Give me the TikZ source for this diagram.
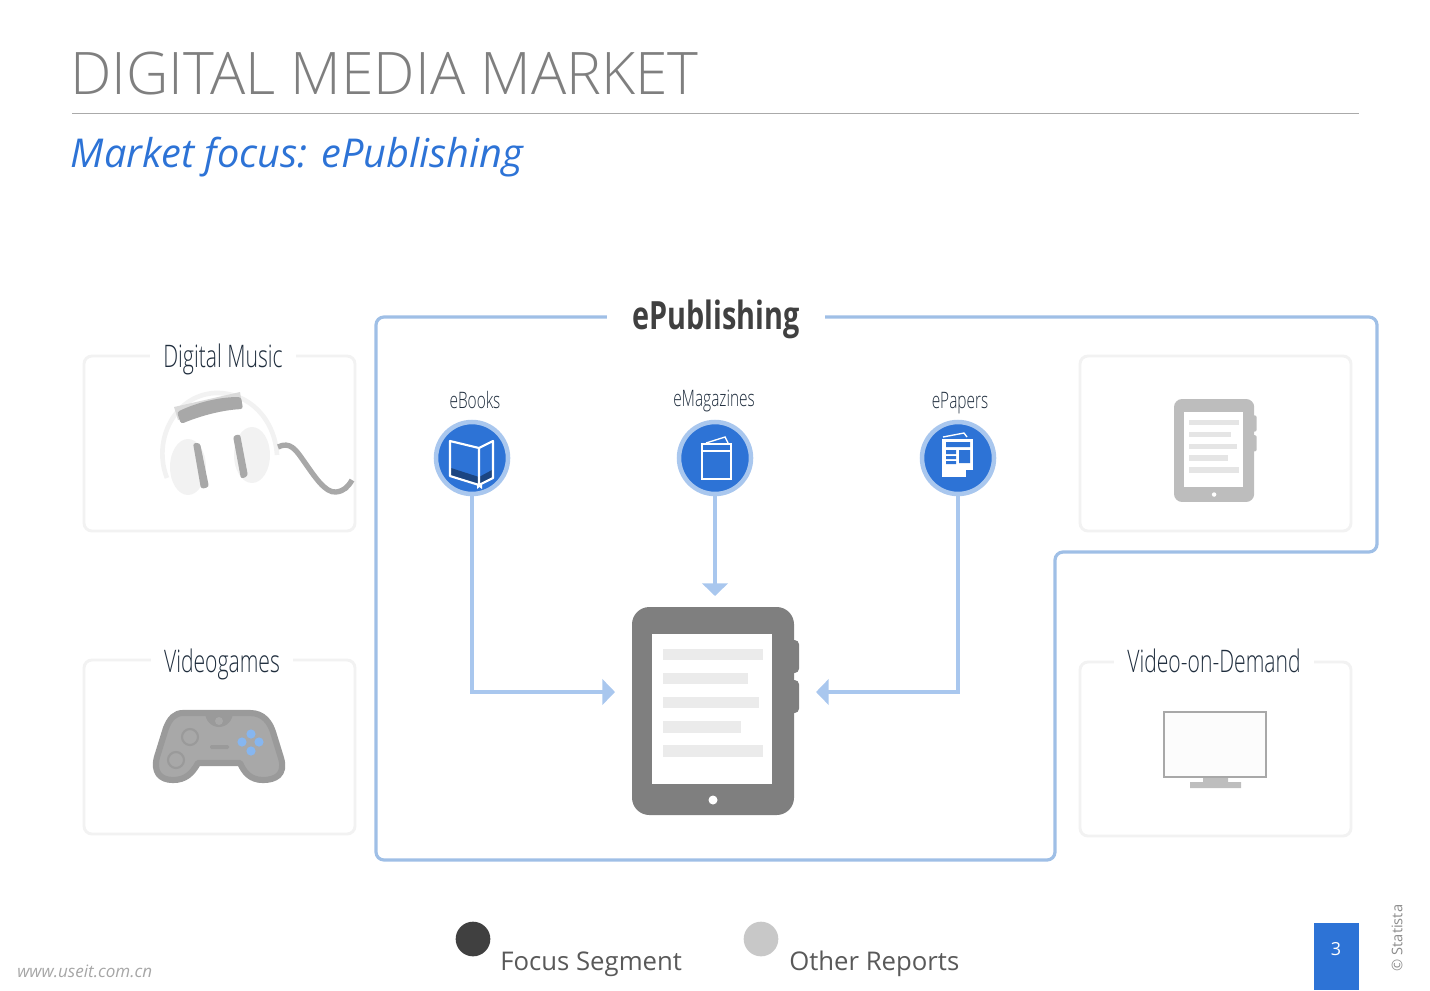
\documentclass[tikz,border=0pt]{standalone}
\usepackage{fontspec}
\setmainfont{Open Sans}
\newfontfamily\lightfont{Open Sans Light}
\newfontfamily\condfont[FakeStretch=.68]{Open Sans Light}
\newfontfamily\condbold[FakeStretch=.74]{Open Sans Bold}
\usetikzlibrary{arrows.meta,positioning,calc}
\definecolor{mediaBlue}{HTML}{2D73D6}
\definecolor{mediaFrame}{HTML}{9FBFE6}
\definecolor{mediaFeed}{HTML}{A9C7EE}
\definecolor{mediaGrid}{HTML}{F2F2F2}
\definecolor{mediaInk}{HTML}{1F2D3D}
\definecolor{mediaTitle}{HTML}{7F7F7F}
\definecolor{mediaText}{HTML}{595959}
\definecolor{mediaDark}{HTML}{404040}
\definecolor{mediaSoft}{HTML}{C8C8C8}
\definecolor{padDark}{HTML}{9A9A9A}
\definecolor{padFill}{HTML}{A8A8A8}
\definecolor{padBlue}{HTML}{86B6F0}
\tikzset{
  market/.style={draw=mediaGrid,line width=2.2pt,rounded corners=6pt},
  marketlabel/.style={fill=white,inner xsep=10pt,inner ysep=0pt,text=mediaInk,
    font=\condfont\fontsize{23.3}{26}\selectfont},
  typelabel/.style={text=mediaInk,inner sep=0pt,font=\condfont\fontsize{17}{20}\selectfont},
  typeicon/.style={circle,fill=mediaBlue,draw=mediaFeed,line width=3.4pt,minimum size=54pt,inner sep=0pt},
  feed/.style={-{Triangle[width=19pt,length=9.5pt]},line width=3.6pt,mediaFeed},
  legenddot/.style={circle,minimum size=26pt,inner sep=0pt},
  legendtext/.style={anchor=base west,inner sep=0pt,text=mediaText,font=\fontsize{19.3}{22}\selectfont}
}
\begin{document}
\begin{tikzpicture}[x=.75pt,y=-.75pt]
  \useasboundingbox (0,0) rectangle (1430,990);
  % heading
  \node[anchor=base west,inner sep=0pt,text=mediaTitle,font=\lightfont\fontsize{44}{50}\selectfont] (title) at (70,94) {DIGITAL MEDIA MARKET};
  \coordinate (ruleL) at (72,113.5);
  \coordinate (ruleR) at (1359,113.5);
  \draw[mediaSoft!85!black,line width=.7pt] (ruleL) -- (ruleR);
  \node[anchor=base west,inner sep=0pt,text=mediaBlue,font=\itshape\fontsize{29.8}{34}\selectfont] (subtitle) at (70.5,167) {Market focus: ePublishing};
  % frame round the focus segment
  \draw[draw=mediaFrame,line width=2.4pt,rounded corners=6pt]
    (376,317) -- (376,860) -- (1055,860) -- (1055,552) -- (1377,552) -- (1377,317) -- cycle;
  \node[fill=white,inner xsep=19pt,inner ysep=0pt,text=mediaDark,font=\condbold\fontsize{29.2}{32}\selectfont] (epub) at (716,319) {ePublishing};
  % other markets
  \foreach \xa/\ya/\xb/\yb in {84/356/355/531, 84/660/355/834, 1080/356/1351/531, 1080/662/1351/836}
    \draw[market] (\xa,\ya) rectangle (\xb,\yb);
  \node[marketlabel] (music) at (223,359) {Digital Music};
  \node[marketlabel] (games) at (222,664) {Videogames};
  \node[marketlabel] (vod) at (1214,661) {Video-on-Demand};
  % headphones
  \draw[mediaGrid,line width=3.5pt] (167,478) .. controls (152,440) and (175,395) .. (215,393) .. controls (250,392) and (275,420) .. (277,455);
  \fill[mediaGrid!90!black] (174,407) -- (240,392) -- (242,404) -- (178,420) -- cycle;
  \fill[padFill,rounded corners=2pt] (177,412) .. controls (198,402) and (220,397) .. (241,397) -- (243,409) .. controls (222,410) and (200,416) .. (181,424) -- cycle;
  \fill[mediaGrid] (188,467) ellipse [x radius=18,y radius=28];
  \fill[mediaGrid] (252,455) ellipse [x radius=18,y radius=28];
  \fill[padFill,rounded corners=2pt] (193,443) -- (200,443) -- (209,487) -- (201,489) -- cycle;
  \fill[padFill,rounded corners=2pt] (233,436) -- (240,434) -- (248,476) -- (241,479) -- cycle;
  \draw[padFill,line width=4pt] (278,447) .. controls (290,441) and (296,450) .. (303,460) .. controls (315,477) and (325,493) .. (336,492) .. controls (344,491) and (348,487) .. (352,480);
  % game pad
  \draw[padDark,fill=padFill,line width=4.6pt,line join=round]
    (183,713) -- (250,713) .. controls (264,713) and (270,723) .. (273,732) -- (281,758)
    .. controls (286,775) and (275,780) .. (263,780) .. controls (250,780) and (244,772) .. (240,763)
    -- (198,763) .. controls (192,774) and (185,780) .. (173,780) .. controls (160,780) and (153,772) .. (157,757)
    -- (166,728) .. controls (170,718) and (175,713) .. (183,713) -- cycle;
  \fill[padDark] (205,712) arc[start angle=180,end angle=360,x radius=14,y radius=-15] -- cycle;
  \fill[padFill] (219,721) circle[radius=4];
  \draw[padDark,line width=1.6pt] (190,737) circle[radius=8] (176,760) circle[radius=8];
  \fill[padDark,rounded corners=1pt] (210,745) rectangle (229,749);
  \foreach \bx/\by in {251/734, 242/742, 259/742, 251/751}
    \fill[padBlue] (\bx,\by) circle[radius=4.6];
  % monitor
  \draw[padFill,fill=black!1,line width=2pt] (1164,712) rectangle (1266,777);
  \fill[mediaSoft!95!black] (1203,778) rectangle (1228,782) (1190,782) rectangle (1241,788);
  % readers, large and small
  \foreach \ox/\oy/\sc/\rad/\col/\bar in {632/607/1/13pt/mediaTitle/black!8, 1174/399/.495/6pt/black!26/black!10}{
    \begin{scope}[shift={(\ox,\oy)},scale=\sc]
      \fill[\col,rounded corners=\rad*.25] (150,33) rectangle (167,66) (150,73) rectangle (167,106);
      \fill[\col,rounded corners=\rad] (0,0) rectangle (162,208);
      \fill[white] (20,27) rectangle (140,177);
      \foreach \ya/\yb/\xb in {42/53/131, 66/77/116, 90/101/127, 114/126/109, 138/150/131}
        \fill[\bar] (31,\ya) rectangle (\xb,\yb);
      \fill[white] (81,193) circle[radius=4.5];
    \end{scope}
  }
  % ePublishing types
  \node[typeicon] (ebooks) at (472,458) {};
  \node[typeicon] (emags) at (715,458) {};
  \node[typeicon] (epapers) at (958,458) {};
  \node[typelabel] (ebookslabel) at (475,400) {eBooks};
  \node[typelabel] (emagslabel) at (714,401) {eMagazines};
  \node[typelabel] (epaperslabel) at (960,403) {ePapers};
  % book
  \fill[mediaBlue!60!black] (451,468) -- (479,477) -- (492,470) -- (492,478) -- (479,485) -- (451,476) -- cycle;
  \draw[white,line width=1.6pt,line join=round] (450,441) -- (479,448) -- (479,485) -- (450,476) -- cycle (479,448) -- (493,441) -- (493,478) -- (479,485);
  \fill[white] (477,484) -- (482,484) -- (482,489) -- (479.5,487) -- (477,489) -- cycle;
  % magazine
  \draw[white,line width=2pt] (702,444) rectangle (731,479) (702,451) -- (731,451);
  \draw[white,line width=1pt] (706,443) -- (725,437) -- (728,443);
  % newspaper
  \fill[white] (942,439) rectangle (973,477);
  \draw[white,line width=1pt] (943,437) -- (964,433) -- (967,437);
  \fill[mediaBlue] (946,442) rectangle (970,447) (959,450) rectangle (970,463) (946,450) rectangle (956,454) (946,456) rectangle (956,459) (946,461) rectangle (956,464) (966,470) rectangle (973,477);
  % feeds into the reader
  \coordinate (readerW) at (615,692);
  \coordinate (readerN) at (715,596);
  \coordinate (readerE) at (816,692);
  \draw[feed] (ebooks) |- (readerW);
  \draw[feed] (emags) -- (readerN);
  \draw[feed] (epapers) |- (readerE);
  % legend and footer
  \node[legenddot,fill=mediaDark] (focusdot) at (473,939) {};
  \node[legendtext] (focustext) at (500,970) {Focus Segment};
  \node[legenddot,fill=mediaSoft] (otherdot) at (761,939) {};
  \node[legendtext] (othertext) at (789,970) {Other Reports};
  \fill[mediaBlue] (1314,923) rectangle (1359,990);
  \node[text=white,inner sep=0pt,font=\fontsize{13.5}{16}\selectfont] (pageno) at (1336,949) {3};
  \node[rotate=90,text=black!45,inner sep=0pt,font=\fontsize{11}{13}\selectfont] (statista) at (1397,938) {© Statista};
  \node[anchor=base west,inner sep=0pt,text=black!35,font=\itshape\fontsize{12.8}{14}\selectfont] (mark) at (17,977) {www.useit.com.cn};
\end{tikzpicture}
\end{document}
